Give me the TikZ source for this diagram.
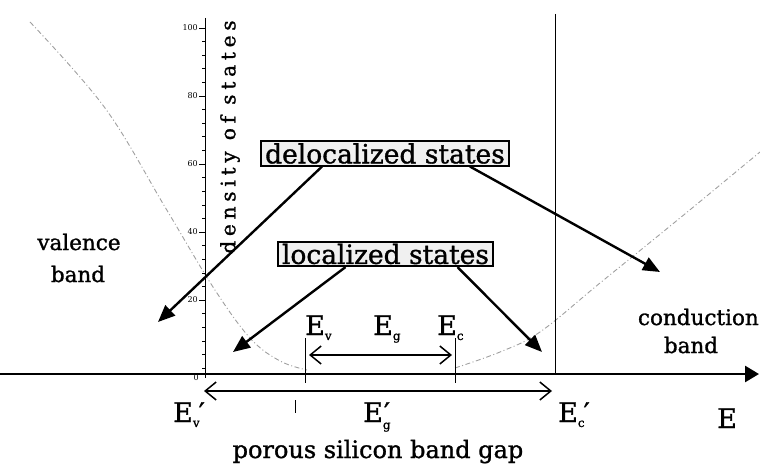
\documentclass[tikz,border=0pt]{standalone}
\usepackage{fontspec}
\setmainfont[FakeBold=1.2]{DejaVu Serif}
\newfontfamily\spacedfont[LetterSpace=24,FakeBold=1.2]{DejaVu Serif}
\newfontfamily\numfont{DejaVu Serif}
\newcommand\Esub[1]{E\raisebox{-5pt}{\fontsize{12}{12}\selectfont #1}}
\usetikzlibrary{arrows.meta}
\begin{document}
\begin{tikzpicture}[x=1pt,y=-1pt,
  lab/.style={font=\fontsize{27}{27}\selectfont, inner sep=0pt, anchor=base west},
  bandlab/.style={font=\fontsize{21.5}{22}\selectfont, inner sep=0pt, anchor=base},
  statebox/.style={draw, line width=1.6pt, fill=gray!12, inner xsep=4pt, inner ysep=2pt, font=\fontsize{26.5}{26.5}\selectfont},
  pointer/.style={line width=2.4pt, -{Triangle[length=17pt,width=14pt]}},
  gap/.style={line width=1.5pt, {Straight Barb[length=11pt,width=18pt]}-{Straight Barb[length=11pt,width=18pt]}},
  dos/.style={gray!75, line width=0.9pt, dash pattern=on 5pt off 2.5pt on 1pt off 2.5pt},
  tick/.style={line width=0.6pt},
  num/.style={font=\numfont\fontsize{8}{8}\selectfont, inner sep=0pt, anchor=east}]
\useasboundingbox (0,0) rectangle (760,465);
% density of states curve
\draw[dos] plot[smooth, tension=0.6] coordinates {(30,22) (105,108) (165,207) (213,287) (250,338) (280,361) (307,370)};
\draw[dos] plot[smooth, tension=0.6] coordinates {(455,368) (500,352) (540,332) (600,283) (680,218) (760,152)};
% vertical DOS axis
\draw[line width=1pt] (205,18) -- (205,378);
\foreach \v in {0,4,...,100} {\draw[tick] (202,{368-3.4*\v}) -- (205,{368-3.4*\v});}
\foreach \v in {20,40,60,80,100} {\draw[tick] (199,{368-3.4*\v}) -- (205,{368-3.4*\v}); \node[num] at (198,{368-3.4*\v}) {\v};}
\node[num] at (199,378) {0};
\node[rotate=90, inner sep=0pt, font=\spacedfont\fontsize{20}{20}\selectfont] (doslab) at (230,137) {density of states};
% E_c' line
\draw[line width=1pt] (555,14) -- (555,374);
% main energy axis
\draw[line width=2.6pt, -{Triangle[length=14pt,width=16pt]}] (0,374) -- (759,374);
% Ev, Ec ticks
\draw[line width=0.9pt] (305,338) -- (305,383);
\draw[line width=0.9pt] (455,338) -- (455,383);
\draw[line width=0.8pt] (295,400) -- (295,413);
\coordinate (evl) at (309,355);
\coordinate (ecl) at (452,355);
\draw[gap] (evl) -- (ecl);
\coordinate (evp) at (204,391);
\coordinate (ecp) at (552,391);
\draw[gap] (evp) -- (ecp);
% labels
\node[lab] (ev) at (305,335) {\Esub{v}};
\node[lab] (eg) at (373,335) {\Esub{g}};
\node[lab] (ec) at (437,335) {\Esub{c}};
\node[lab] (evprime) at (173,422) {\Esub{v}\kern-1pt′};
\node[lab] (egprime) at (363,422) {E\rlap{\raisebox{-7pt}{\fontsize{12}{12}\selectfont g}}\kern1pt′};
\node[lab] (ecprime) at (558,422) {\Esub{c}\kern-1pt′};
\node[lab] (e) at (717,428) {E};
\node[font=\fontsize{24}{24}\selectfont, inner sep=0pt, anchor=base] (gaplab) at (378,458) {porous silicon band gap};
\node[bandlab] (valence) at (79,250) {valence};
\node[bandlab] (vband) at (78,282) {band};
\node[bandlab, anchor=base east] (conduction) at (759,325) {conduction};
\node[bandlab] (cband) at (691,353) {band};
% boxes
\node[statebox] (deloc) at (385,153.5) {delocalized states};
\node[statebox] (loc) at (385.5,254) {localized states};
% arrow targets
\coordinate (vt) at (158,322);
\coordinate (ct) at (660,272);
\coordinate (lt) at (233,352);
\coordinate (rt) at (542,352);
\draw[pointer] ([xshift=-63pt]deloc.south) -- (vt);
\draw[pointer] ([xshift=85pt]deloc.south) -- (ct);
\draw[pointer] ([xshift=-40pt]loc.south) -- (lt);
\draw[pointer] ([xshift=72pt]loc.south) -- (rt);
\end{tikzpicture}
\end{document}
